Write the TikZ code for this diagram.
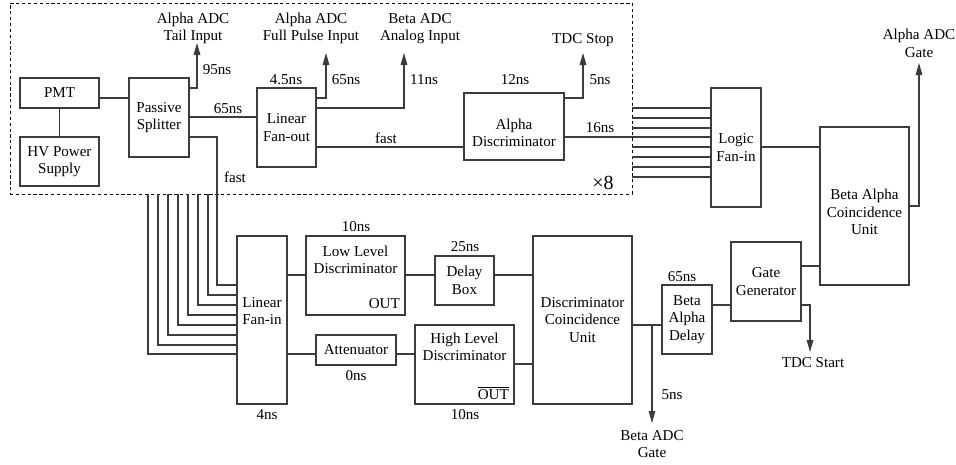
\documentclass[tikz,border=0pt]{standalone}
\usepackage{fontspec}
\setmainfont{Liberation Serif}
\usetikzlibrary{arrows.meta,calc,fit}
\definecolor{lc}{RGB}{60,60,60}
\begin{document}
\begin{tikzpicture}[x=0.75pt,y=-0.75pt,
  every node/.style={font=\fontsize{11.3}{13}\selectfont},
  blk/.style={draw=lc, fill=white, line width=0.8pt, inner sep=0pt, align=center},
  wh/.style 2 args={minimum width=#1*0.75pt, minimum height=#2*0.75pt},
  lbl/.style={align=center, inner sep=0pt},
  wire/.style={draw=lc, line width=0.8pt},
  arr/.style={wire, -{Triangle[length=9pt,width=5pt]}},
  grpbox/.style={draw=black, line width=0.6pt, dash pattern=on 2.4pt off 2pt, inner sep=0pt}
]
\useasboundingbox (0,0) rectangle (956,464);

% group box
\node[grpbox, fit={(10,3) (632,194)}] (grp) {};

% blocks
\node[blk, wh={79}{30}] (pmt) at (59.5,93) {PMT};
\node[blk, wh={79}{49}] (hv) at (59.5,161.5) {HV Power\\Supply};
\node[blk, wh={60}{79}] (ps) at (159,117.5) {Passive\\Splitter};
\node[blk, wh={59}{79}] (lfo) at (286.5,127.5) {Linear\\Fan-out};
\node[blk, wh={100}{67}] (ad) at (514,126.5) {};
\node[lbl] (adtxt) at (514,133) {Alpha\\Discriminator};
\node[blk, wh={50}{119}] (lgf) at (736,147.5) {Logic\\Fan-in};
\node[blk, wh={89}{158}] (bac) at (864.5,206) {};
\node[lbl] (bactxt) at (864.5,212) {Beta Alpha\\Coincidence\\Unit};
\node[blk, wh={70}{79}] (gg) at (766,281.5) {Gate\\Generator};
\node[blk, wh={50}{69}] (bad) at (687,319.5) {Beta\\Alpha\\Delay};
\node[blk, wh={99}{168}] (dcu) at (582.5,320) {Discriminator\\Coincidence\\Unit};
\node[blk, wh={59}{49}] (db) at (464.5,280.5) {Delay\\Box};
\node[blk, wh={99}{79}] (hld) at (464.5,364.5) {};
\node[lbl] (hldtxt) at (464.5,347) {High Level\\Discriminator};
\node[lbl, anchor=south east] (hldout) at (509,400) {$\overline{\mbox{OUT}}$};
\node[blk, wh={99}{79}] (lld) at (355.5,275.5) {};
\node[lbl] (lldtxt) at (355.5,260) {Low Level\\Discriminator};
\node[lbl, anchor=south east] (lldout) at (400,309) {OUT};
\node[blk, wh={50}{168}] (lfi) at (262,320) {};
\node[lbl] (lfitxt) at (262,311) {Linear\\Fan-in};
\node[blk, wh={80}{30}] (att) at (356,350) {Attenuator};

% output labels
\node[lbl] (tailin) at (193,28.5) {Alpha ADC\\Tail Input};
\node[lbl] (fullin) at (311,28.5) {Alpha ADC\\Full Pulse Input};
\node[lbl] (anain) at (420,28.5) {Beta ADC\\Analog Input};
\node[lbl] (tdcstop) at (583,40) {TDC Stop};
\node[lbl] (aagate) at (919,43.5) {Alpha ADC\\Gate};
\node[lbl] (bagate) at (652,444) {Beta ADC\\Gate};
\node[lbl] (tdcstart) at (813,363) {TDC Start};

% timing labels
\node[lbl] (t95) at (217,70) {95ns};
\node[lbl] (t45) at (286,80) {4.5ns};
\node[lbl] (t65a) at (228,109) {65ns};
\node[lbl] (tfa) at (235,177) {fast};
\node[lbl] (t65b) at (346,80) {65ns};
\node[lbl] (t11) at (424,80) {11ns};
\node[lbl] (tfb) at (386,138) {fast};
\node[lbl] (t12) at (515,80) {12ns};
\node[lbl] (t5a) at (600,80) {5ns};
\node[lbl] (t16) at (600,128) {16ns};
\node[lbl, font=\fontsize{15}{16}\selectfont] (x8) at (603,183) {×8};
\node[lbl] (t10a) at (356,227) {10ns};
\node[lbl] (t25) at (465,247) {25ns};
\node[lbl] (t65c) at (682,277) {65ns};
\node[lbl] (t5b) at (672,395) {5ns};
\node[lbl] (t10b) at (465,415) {10ns};
\node[lbl] (t0) at (356,376) {0ns};
\node[lbl] (t4) at (267,415) {4ns};

% arrow tips
\coordinate (tailtip) at (197,43);
\coordinate (fulltip) at (326,53);
\coordinate (anatip) at (404,53);
\coordinate (stoptip) at (583,53);
\coordinate (gatetip) at (919,63);
\coordinate (starttip) at (810,352);
\coordinate (bgtip) at (652,423);
\coordinate (fastbend) at (217,285);

% connectors
\draw[wire] (pmt) -- (hv);
\draw[wire] (pmt.east |- 0,98) -- (ps.west |- 0,98);
\draw[arr] (ps.east |- 0,88) -| (tailtip);
\draw[wire] (ps.east |- 0,117) -- (lfo.west |- 0,117);
\draw[wire] (ps.east |- 0,137) -| (fastbend) -- (lfi.west |- fastbend);
\draw[arr] (lfo.east |- 0,98) -| (fulltip);
\draw[arr] (lfo.east |- 0,108) -| (anatip);
\draw[wire] (lfo.east |- 0,147) -- (ad.west |- 0,147);
\draw[arr] (ad.east |- 0,98) -| (stoptip);
\draw[wire] (ad.east |- 0,137) -- (lgf.west |- 0,137);
\foreach \yy in {108,118,128,147,157,167,177}
  \draw[wire] (grp.east |- 0,\yy) -- (lgf.west |- 0,\yy);
\draw[wire] (lgf.east |- 0,147) -- (bac.west |- 0,147);
\draw[arr] (bac.east |- 0,206) -| (gatetip);
\draw[wire] (gg.east |- 0,266) -- (bac.west |- 0,266);
\draw[arr] (gg.east |- 0,305) -| (starttip);
\draw[wire] (bad.east |- 0,305) -- (gg.west |- 0,305);
\draw[wire] (dcu.east |- 0,325) -- (bad.west |- 0,325);
\draw[arr] (bgtip |- 0,325) -- (bgtip);
\draw[wire] (db.east |- 0,275) -- (dcu.west |- 0,275);
\draw[wire] (lld.east |- 0,275) -- (db.west |- 0,275);
\draw[wire] (lfi.east |- 0,275) -- (lld.west |- 0,275);
\draw[wire] (hld.east |- 0,364) -- (dcu.west |- 0,364);
\draw[wire] (lfi.east |- 0,354) -- (att.west |- 0,354);
\draw[wire] (att.east |- 0,354) -- (hld.west |- 0,354);
\foreach \xx/\yy in {208/295,198/305,188/315,178/325,168/335,158/345,148/354}
  \draw[wire] (\xx,0 |- grp.south) |- (lfi.west |- 0,\yy);
\end{tikzpicture}
\end{document}
